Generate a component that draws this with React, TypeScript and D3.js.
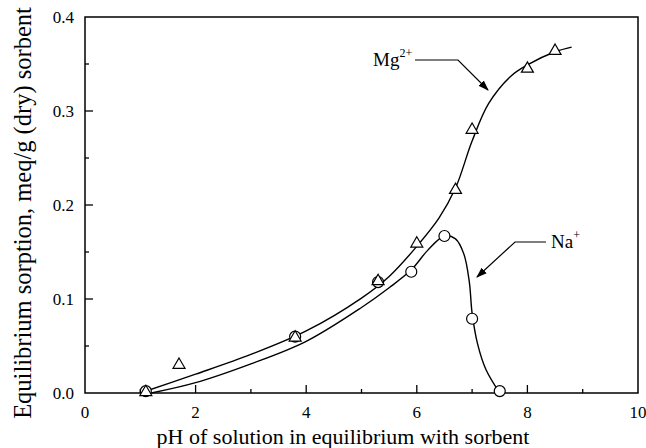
import React from "react";
import * as d3 from "d3";

// measured points
const mgPH = [1.1, 1.7, 3.8, 5.3, 6.0, 6.7, 7.0, 8.0, 8.5];
const mgQ = [0.002, 0.031, 0.06, 0.12, 0.16, 0.217, 0.281, 0.346, 0.365];
const naPH = [1.1, 3.8, 5.3, 5.9, 6.5, 7.0, 7.5];
const naQ = [0.002, 0.06, 0.118, 0.129, 0.167, 0.079, 0.002];

// fitted curves
const mgFitPH = [1.0, 2, 3, 4, 5, 5.5, 6.0, 6.4, 6.7, 7.0, 7.3, 7.7, 8.0, 8.5, 8.8];
const mgFitQ = [0.0, 0.02, 0.041, 0.066, 0.101, 0.124, 0.156, 0.186, 0.218, 0.268, 0.308, 0.337, 0.349, 0.363, 0.368];
const naFitPH = [1.2, 2, 3, 4, 5, 5.5, 5.9, 6.2, 6.5, 6.7, 6.85, 6.95, 7.0, 7.1, 7.25, 7.5];
const naFitQ = [0.0, 0.011, 0.031, 0.055, 0.091, 0.112, 0.131, 0.152, 0.167, 0.164, 0.148, 0.118, 0.085, 0.052, 0.025, 0.0];

const xTicks = [0, 2, 4, 6, 8, 10];
const yTicks = [0.0, 0.1, 0.2, 0.3, 0.4];

const W = 646;
const H = 448;
const m = { left: 85, right: 638, top: 17, bottom: 393 };
const font = "Liberation Serif, DejaVu Serif, serif";

export default function App() {
  const x = d3.scaleLinear().domain([0, 10]).range([m.left, m.right]);
  const y = d3.scaleLinear().domain([0, 0.4]).range([m.bottom, m.top]);

  const curvePath = (xs: number[], ys: number[]) =>
    d3
      .line<[number, number]>()
      .x((d) => x(d[0]))
      .y((d) => y(d[1]))
      .curve(d3.curveCatmullRom.alpha(0.5))(xs.map((v, i) => [v, ys[i]]))!;

  const minorX = d3.range(1, 10, 2);
  const minorY = [0.05, 0.15, 0.25, 0.35];
  const tri = d3.symbol().type(d3.symbolTriangle).size(62)()!;

  return (
    <svg width={W} height={H} style={{ position: "absolute", left: 0, top: 0, fontFamily: font }}>
      <rect width={W} height={H} fill="#fff" />
      <g fill="none" stroke="#000" strokeWidth={1.4}>
        <path d={curvePath(mgFitPH, mgFitQ)} />
        <path d={curvePath(naFitPH, naFitQ)} />
      </g>

      {/* axes frame */}
      <rect
        x={m.left}
        y={m.top}
        width={m.right - m.left}
        height={m.bottom - m.top}
        fill="none"
        stroke="#000"
        strokeWidth={1.5}
      />
      <g stroke="#000" strokeWidth={1.3}>
        {xTicks.slice(1, -1).map((t) => (
          <line key={t} x1={x(t)} x2={x(t)} y1={m.bottom} y2={m.bottom - 8} />
        ))}
        {minorX.map((t) => (
          <line key={"m" + t} x1={x(t)} x2={x(t)} y1={m.bottom} y2={m.bottom - 4} />
        ))}
        {yTicks.slice(1, -1).map((t) => (
          <line key={t} x1={m.left} x2={m.left + 8} y1={y(t)} y2={y(t)} />
        ))}
        {minorY.map((t) => (
          <line key={"m" + t} x1={m.left} x2={m.left + 4} y1={y(t)} y2={y(t)} />
        ))}
      </g>

      <g style={{ fontFamily: font }} fontSize={17} fill="#000">
        {xTicks.map((t) => (
          <text key={t} x={x(t)} y={m.bottom + 25} textAnchor="middle">
            {t}
          </text>
        ))}
        {yTicks.map((t) => (
          <text key={t} x={m.left - 11} y={y(t) + 6} textAnchor="end">
            {t.toFixed(1)}
          </text>
        ))}
      </g>
      <text
        x={343}
        y={444}
        textAnchor="middle"
        style={{ fontFamily: font }}
        fontSize={22}
      >
        pH of solution in equilibrium with sorbent
      </text>
      <text
        transform={`translate(31,213) rotate(-90)`}
        textAnchor="middle"
        style={{ fontFamily: font }}
        fontSize={24.5}
      >
        Equilibrium sorption, meq/g (dry) sorbent
      </text>

      {/* markers */}
      <g fill="#fff" stroke="#000" strokeWidth={1.2}>
        {naPH.map((p, i) => (
          <circle key={"n" + i} cx={x(p)} cy={y(naQ[i])} r={5.5} />
        ))}
        {mgPH.map((p, i) => (
          <path key={"g" + i} d={tri} transform={`translate(${x(p)},${y(mgQ[i]) + 1})`} />
        ))}
      </g>

      {/* annotations */}
      <defs>
        <marker id="arr" viewBox="0 0 10 10" refX="9" refY="5" markerWidth="9" markerHeight="9" orient="auto">
          <path d="M0,1.5 L10,5 L0,8.5 Z" fill="#000" />
        </marker>
      </defs>
      <g fill="none" stroke="#000" strokeWidth={1.2}>
        <polyline points="415,60 458,60 488,90" markerEnd="url(#arr)" />
        <polyline points="546,242 515,242 477,277" markerEnd="url(#arr)" />
      </g>
      <g style={{ fontFamily: font }} fill="#000">
        <text x={373} y={66} fontSize={19}>
          Mg
          <tspan dy={-9} fontSize={12}>2+</tspan>
        </text>
        <text x={551} y={248} fontSize={19}>
          Na
          <tspan dy={-9} fontSize={12}>+</tspan>
        </text>
      </g>
    </svg>
  );
}
